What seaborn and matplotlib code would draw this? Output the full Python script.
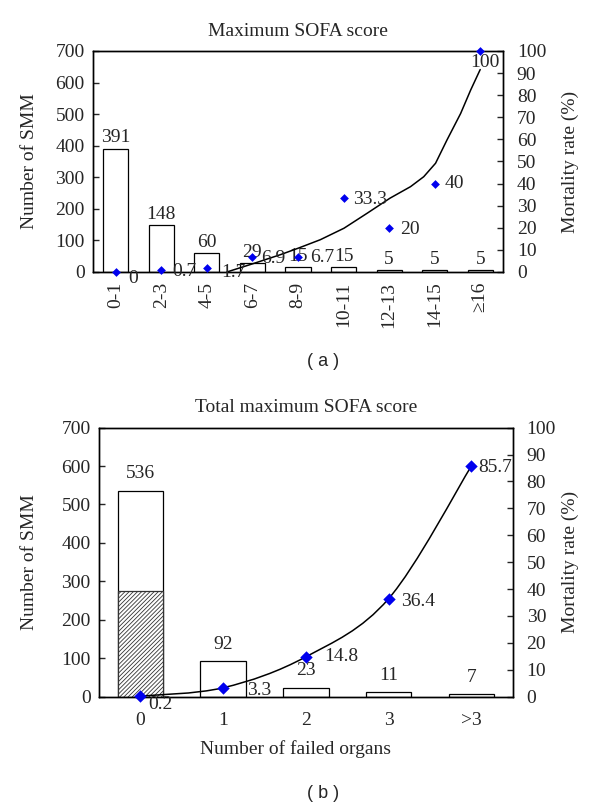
import numpy as np
import pandas as pd
import matplotlib
matplotlib.use("Agg")
import matplotlib.pyplot as plt
from matplotlib.path import Path
from matplotlib.patches import PathPatch
import seaborn as sns

# ---------------- data ----------------
cats_a = ["0-1", "2-3", "4-5", "6-7", "8-9", "10-11", "12-13", "14-15", "\u226516"]
count_a = [391, 148, 60, 29, 15, 15, 5, 5, 5]
mort_a = [0, 0.7, 1.7, 6.9, 6.7, 33.3, 20, 40, 100]
mort_a_text = ["0", "0.7", "1.7", "6.9", "6.7", "33.3", "20", "40", "100"]
# trend line of panel (a) (category index, %)
trend_a_x = [2.44, 3.02, 3.61, 4.01, 4.49, 5.01, 5.52, 6.02, 6.47, 6.76, 7.02, 7.27, 7.57, 7.79, 8.0]
trend_a_y = [0, 3.8, 7.8, 10.8, 14.6, 19.8, 26.6, 33.4, 38.6, 43.1, 49.2, 59.7, 71.7, 82.3, 91.6]

cats_b = ["0", "1", "2", "3", ">3"]
count_b = [536, 92, 23, 11, 7]
hatched_b = [275]          # hatched part of first bar
mort_b = [0.2, 3.3, 14.8, 36.4, 85.7]
mort_b_text = ["0.2", "3.3", "14.8", "36.4", "85.7"]

# label offsets (points) - styling only
off_a = [(9, -4.7, "left"), (7.7, -1, "left"), (10, -3, "left"), (6, -1, "left"),
         (8.4, 0, "left"), (7.2, -1, "left"), (8.2, -1.2, "left"), (7.2, 0, "left"),
         (3.4, -8.6, "center")]
off_b = [(5.8, -5.8), (17, -2.2), (13.2, 0), (9.1, -2), (5, -1.2)]

# ---------------- style ----------------
sns.set_style("ticks")
plt.rcParams["font.family"] = ["Liberation Serif", "DejaVu Serif"]
plt.rcParams["axes.linewidth"] = 1.0
FS = 14
BLUE = "#0000ee"

fig = plt.figure(figsize=(6.0, 8.08), dpi=100)


def catmull_path(xs, ys):
    pts = np.column_stack([xs, ys]).astype(float)
    P = np.vstack([pts[0], pts, pts[-1]])
    verts = [tuple(pts[0])]
    codes = [Path.MOVETO]
    for i in range(1, len(P) - 2):
        p0, p1, p2, p3 = P[i - 1], P[i], P[i + 1], P[i + 2]
        c1 = p1 + (p2 - p0) / 6.0
        c2 = p2 - (p3 - p1) / 6.0
        verts += [tuple(c1), tuple(c2), tuple(p2)]
        codes += [Path.CURVE4] * 3
    return Path(verts, codes)


def style_axes(ax, ax2):
    for a in (ax, ax2):
        for s in a.spines.values():
            s.set_visible(True)
            s.set_linewidth(1.0)
            s.set_color("black")
    ax.set_ylim(0, 700)
    ax.set_yticks(range(0, 701, 100))
    ax2.set_ylim(0, 100)
    ax2.set_yticks(range(0, 101, 10))
    ax.tick_params(axis="y", direction="in", length=4, width=1, pad=6, labelsize=FS)
    ax2.tick_params(axis="y", direction="in", length=4, width=1, pad=10, labelsize=FS)
    ax.tick_params(axis="x", length=0, labelsize=FS)
    ax.set_ylabel("Number of SMM", fontsize=FS)
    ax2.set_ylabel("Mortality rate (%)", fontsize=FS)
    ax.set_xlabel("")


# ---------------- panel (a) ----------------
axA = fig.add_axes([0.155, 0.6634, 0.6833, 0.2735])
dfa = pd.DataFrame({"cat": cats_a, "n": count_a})
sns.barplot(data=dfa, x="cat", y="n", ax=axA, color="white", edgecolor="black",
            linewidth=0.9, width=0.55, errorbar=None, saturation=1)
for i, v in enumerate(count_a):
    axA.annotate(str(v), (i, v), xytext=(0, 1.5), textcoords="offset points",
                 ha="center", va="bottom", fontsize=FS)
axA2 = axA.twinx()
sns.lineplot(x=trend_a_x, y=trend_a_y, ax=axA2, color="black", linewidth=1.1, sort=False)
sns.scatterplot(x=np.arange(len(cats_a)), y=mort_a, ax=axA2, marker="D", s=20,
                color=BLUE, edgecolor=BLUE, linewidth=0, zorder=5, clip_on=False)
for i, (v, t) in enumerate(zip(mort_a, mort_a_text)):
    dx, dy, ha = off_a[i]
    axA2.annotate(t, (i, v), xytext=(dx, dy), textcoords="offset points",
                  ha=ha, va="center", fontsize=FS, annotation_clip=False)
style_axes(axA, axA2)
axA.set_xlim(-0.5, len(cats_a) - 0.5)
axA.set_xticks(range(len(cats_a)))
axA.set_xticklabels(cats_a, rotation=90, fontsize=FS)
axA.tick_params(axis="x", pad=7)
axA.yaxis.set_label_coords(-0.134, 0.5)
axA2.yaxis.set_label_coords(1.143, 0.5)
axA.set_title("Maximum SOFA score", fontsize=FS, pad=11)

# ---------------- panel (b) ----------------
axB = fig.add_axes([0.165, 0.1378, 0.6895, 0.333])
dfb = pd.DataFrame({"cat": cats_b, "n": count_b})
sns.barplot(data=dfb, x="cat", y="n", ax=axB, color="white", edgecolor="black",
            linewidth=0.9, width=0.55, errorbar=None, saturation=1, order=cats_b)
dfh = pd.DataFrame({"cat": cats_b[:len(hatched_b)], "n": hatched_b})
plt.rcParams["hatch.linewidth"] = 0.6
sns.barplot(data=dfh, x="cat", y="n", ax=axB, color="white", edgecolor="#333333",
            linewidth=0.9, width=0.55, errorbar=None, saturation=1, order=cats_b,
            hatch="////////")
for i, v in enumerate(count_b):
    axB.annotate(str(v), (i, v), xytext=(0, 6), textcoords="offset points",
                 ha="center", va="bottom", fontsize=FS)
axB2 = axB.twinx()
axB2.add_patch(PathPatch(catmull_path(np.arange(len(cats_b)), mort_b), fill=False,
                         edgecolor="black", linewidth=1.1))
sns.scatterplot(x=np.arange(len(cats_b)), y=mort_b, ax=axB2, marker="D", s=40,
                color=BLUE, edgecolor=BLUE, linewidth=0, zorder=5, clip_on=False)
for i, (v, t) in enumerate(zip(mort_b, mort_b_text)):
    dx, dy = off_b[i]
    axB2.annotate(t, (i, v), xytext=(dx, dy), textcoords="offset points",
                  ha="left", va="center", fontsize=FS, annotation_clip=False)
style_axes(axB, axB2)
axB.set_xlim(-0.5, len(cats_b) - 0.5)
axB.set_xticks(range(len(cats_b)))
axB.set_xticklabels(cats_b, fontsize=FS)
axB.tick_params(axis="x", pad=11)
axB.set_xlabel("Number of failed organs", fontsize=FS)
axB.xaxis.set_label_coords(0.476, -0.16)
axB.yaxis.set_label_coords(-0.147, 0.5)
axB2.yaxis.set_label_coords(1.118, 0.5)
axB.set_title("Total maximum SOFA score", fontsize=FS, pad=11)

fig.text(323 / 600, 1 - 362 / 808, "( a )", ha="center", va="center",
         fontsize=13, family=["Liberation Sans", "DejaVu Sans"])
fig.text(323 / 600, 1 - 793 / 808, "( b )", ha="center", va="center",
         fontsize=13, family=["Liberation Sans", "DejaVu Sans"])

fig.savefig("out.png", dpi=100, facecolor="white")
